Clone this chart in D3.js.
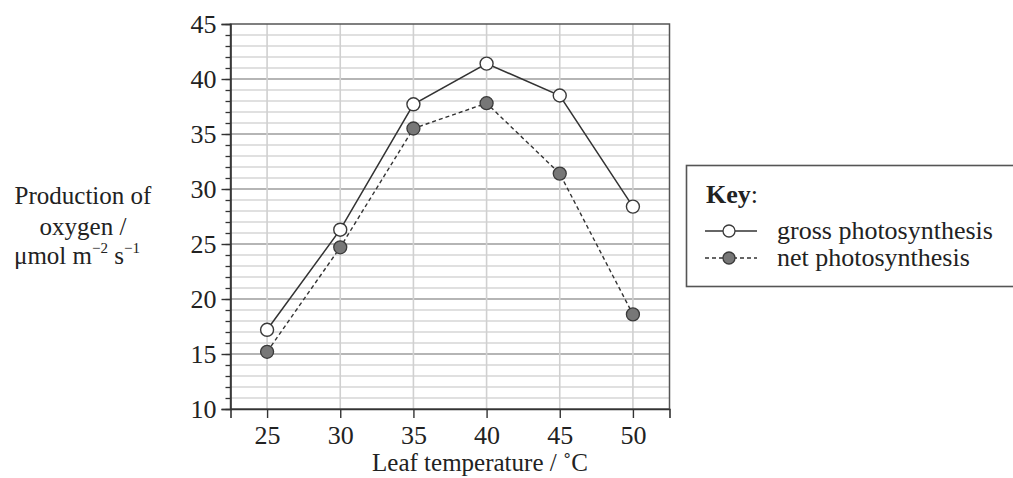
<!DOCTYPE html>
<html>
<head>
<meta charset="utf-8">
<script src="https://cdn.jsdelivr.net/npm/d3@7"></script>
<style>
  body { margin: 0; background: #fff; }
  svg text { font-family: "Liberation Serif", "Times New Roman", serif; fill: #222; }
</style>
</head>
<body>
<svg id="chart" width="1013" height="478"></svg>
<script>
// data
const temps = [25, 30, 35, 40, 45, 50]
const gross = [17.2, 26.3, 37.7, 41.4, 38.5, 28.4]
const net = [15.2, 24.7, 35.5, 37.8, 31.4, 18.6]
const yTicks = [10, 15, 20, 25, 30, 35, 40, 45]
const seriesNames = ["gross photosynthesis", "net photosynthesis"]

const svg = d3.select("#chart")

const x = d3.scaleLinear().domain([22.5, 52.5]).range([230.5, 669.5])
const y = d3.scaleLinear().domain([10, 45]).range([409, 24])

// grid
const grid = svg.append("g")
grid.selectAll(".hminor")
    .data(d3.range(11, 45))
    .enter().append("line")
    .attr("x1", x(22.5)).attr("x2", x(52.5))
    .attr("y1", d => y(d)).attr("y2", d => y(d))
    .attr("stroke", d => d % 5 == 0 ? "#9c9c9c" : "#d6d6d6")
    .attr("stroke-width", d => d % 5 == 0 ? 1.6 : 1.3)

grid.selectAll(".vline")
    .data(temps)
    .enter().append("line")
    .attr("x1", d => x(d)).attr("x2", d => x(d))
    .attr("y1", y(10)).attr("y2", y(45))
    .attr("stroke", "#d0d0d0")
    .attr("stroke-width", 1.6)

// frame
svg.append("rect")
    .attr("x", x(22.5)).attr("y", y(45))
    .attr("width", x(52.5) - x(22.5)).attr("height", y(10) - y(45))
    .attr("fill", "none")
    .attr("stroke", "#555")
    .attr("stroke-width", 1.5)

// y axis, minor ticks then major
svg.append("g")
    .attr("transform", `translate(${x(22.5)},0)`)
    .call(d3.axisLeft(y).tickValues(d3.range(10, 46)).tickSize(5).tickFormat(""))
    .call(g => g.select(".domain").remove())
    .selectAll("line").attr("stroke", "#333").attr("stroke-width", 1.3)

const yAxis = svg.append("g")
    .attr("transform", `translate(${x(22.5)},0)`)
    .call(d3.axisLeft(y).tickValues(yTicks).tickSize(9).tickPadding(5))
yAxis.select(".domain").attr("stroke", "#333").attr("stroke-width", 1.6)
yAxis.selectAll("line").attr("stroke", "#333").attr("stroke-width", 1.4)
yAxis.selectAll("text")
    .attr("font-size", 26)
    .attr("font-family", "Liberation Serif")
    .attr("fill", "#222")

// x axis
const xAxis = svg.append("g")
    .attr("transform", `translate(0,${y(10)})`)
    .call(d3.axisBottom(x).tickValues(temps).tickSize(9).tickPadding(8))
xAxis.select(".domain").attr("stroke", "#333").attr("stroke-width", 1.6)
xAxis.selectAll("line").attr("stroke", "#333").attr("stroke-width", 1.4)
xAxis.selectAll("text")
    .attr("font-size", 26)
    .attr("font-family", "Liberation Serif")
    .attr("fill", "#222")

// axis titles
svg.append("text")
    .attr("x", 480).attr("y", 471)
    .attr("text-anchor", "middle")
    .attr("font-size", 25)
    .text("Leaf temperature /  ˚C")

const yt = svg.append("text")
    .attr("text-anchor", "middle")
    .attr("font-size", 25)
yt.append("tspan").attr("x", 83).attr("y", 204).text("Production of")
yt.append("tspan").attr("x", 83).attr("y", 235).text("oxygen /")

// third line built separately so superscripts line up
const unit = svg.append("text").attr("font-size", 25).attr("x", 14).attr("y", 264)
unit.append("tspan").text("μmol m")
unit.append("tspan").attr("font-size", 15).attr("dy", -11).text("−2")
unit.append("tspan").attr("dy", 11).text(" s")
unit.append("tspan").attr("font-size", 15).attr("dy", -11).text("−1")

// lines
const line = d3.line()
    .x(d => x(d[0]))
    .y(d => y(d[1]))

svg.append("path")
    .datum(d3.zip(temps, net))
    .attr("d", line)
    .attr("fill", "none")
    .attr("stroke", "#333")
    .attr("stroke-width", 1.4)
    .attr("stroke-dasharray", "4,3")

svg.append("path")
    .datum(d3.zip(temps, gross))
    .attr("d", line)
    .attr("fill", "none")
    .attr("stroke", "#333")
    .attr("stroke-width", 1.5)

svg.selectAll(".netpt")
    .data(d3.zip(temps, net))
    .enter().append("circle")
    .attr("cx", d => x(d[0]))
    .attr("cy", d => y(d[1]))
    .attr("r", 6.5)
    .attr("fill", "#777")
    .attr("stroke", "#3a3a3a")
    .attr("stroke-width", 1.3)

svg.selectAll(".grosspt")
    .data(d3.zip(temps, gross))
    .enter().append("circle")
    .attr("cx", d => x(d[0]))
    .attr("cy", d => y(d[1]))
    .attr("r", 6.5)
    .attr("fill", "#fff")
    .attr("stroke", "#3a3a3a")
    .attr("stroke-width", 1.4)

// key
const key = svg.append("g")
key.append("rect")
    .attr("x", 686.5).attr("y", 165.5)
    .attr("width", 340).attr("height", 121)
    .attr("fill", "#fff")
    .attr("stroke", "#555")
    .attr("stroke-width", 1.6)

const kt = key.append("text").attr("x", 706).attr("y", 203).attr("font-size", 26)
kt.append("tspan").attr("font-weight", "bold").text("Key")
kt.append("tspan").text(":")

const rows = [
    { name: seriesNames[0], dash: null, fill: "#fff", ly: 231, ty: 239 },
    { name: seriesNames[1], dash: "4,3", fill: "#777", ly: 258, ty: 266 }
]
rows.forEach(r => {
    key.append("line")
        .attr("x1", 705).attr("x2", 757)
        .attr("y1", r.ly).attr("y2", r.ly)
        .attr("stroke", "#333")
        .attr("stroke-width", 1.4)
        .attr("stroke-dasharray", r.dash)
    key.append("circle")
        .attr("cx", 729).attr("cy", r.ly).attr("r", 6)
        .attr("fill", r.fill)
        .attr("stroke", "#3a3a3a")
        .attr("stroke-width", 1.3)
    key.append("text")
        .attr("x", 777).attr("y", r.ty)
        .attr("font-size", 26)
        .text(r.name)
})
</script>
</body>
</html>
